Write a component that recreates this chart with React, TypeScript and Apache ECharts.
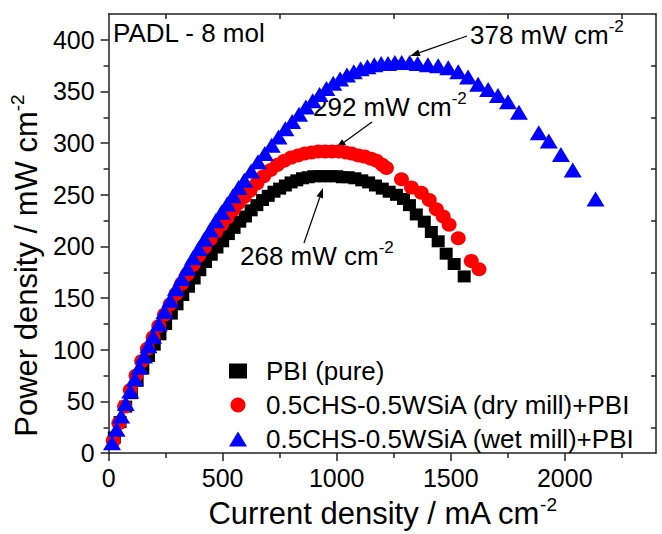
import React, { useEffect, useRef } from "react";
import * as echarts from "echarts";

const FONT = "'Liberation Sans', Arial, sans-serif";

const seriesNames = [
  "PBI (pure)",
  "0.5CHS-0.5WSiA (dry mill)+PBI",
  "0.5CHS-0.5WSiA (wet mill)+PBI",
];

// [current density (mA cm-2), power density (mW cm-2)]
const pbiPure: [number, number][] = [
  [25, 15], [50, 30], [75, 45], [100, 58], [125, 70], [150, 82], [175, 94], [200, 105],
  [225, 115], [250, 125], [275, 135], [300, 144], [325, 153], [350, 161], [375, 169],
  [400, 177], [425, 185], [450, 192], [475, 199], [500, 205], [525, 212], [550, 218],
  [575, 224], [600, 229], [625, 235], [650, 240], [675, 245], [700, 249], [725, 253],
  [750, 256], [775, 259], [800, 262], [825, 264], [850, 266], [875, 267], [900, 268],
  [925, 268], [950, 268], [975, 268], [1000, 268], [1025, 267], [1050, 267], [1080, 266],
  [1110, 264], [1140, 262], [1170, 259], [1200, 256], [1230, 253], [1262, 250], [1293, 246],
  [1319, 240], [1349, 231], [1384, 224], [1415, 214], [1445, 205], [1480, 193], [1515, 183],
  [1559, 171],
];

const dryMill: [number, number][] = [
  [20, 12], [45, 29], [70, 45], [95, 61], [120, 75], [145, 89], [170, 101], [195, 112],
  [220, 123], [245, 134], [270, 144], [295, 154], [320, 164], [345, 173], [370, 182],
  [395, 191], [420, 199], [445, 207], [470, 214], [495, 221], [520, 228], [545, 235],
  [570, 242], [595, 248], [620, 254], [650, 261], [680, 268], [710, 274], [740, 279],
  [770, 283], [800, 286], [830, 288], [860, 290], [890, 291], [920, 292], [950, 292],
  [980, 292], [1009, 292], [1040, 291], [1065, 290], [1095, 288], [1122, 287], [1150, 285],
  [1175, 283], [1200, 279], [1218, 276], [1284, 265], [1328, 257], [1371, 252], [1406, 245],
  [1437, 236], [1467, 229], [1493, 221], [1533, 208], [1590, 186], [1624, 178],
];

const wetMill: [number, number][] = [
  [15, 10], [35, 23], [55, 36], [75, 48], [95, 60], [115, 72], [135, 83], [155, 94],
  [175, 104], [195, 113], [220, 125], [245, 137], [270, 148], [295, 159], [320, 169],
  [345, 179], [370, 189], [395, 198], [420, 207], [445, 216], [470, 225], [495, 233],
  [520, 241], [545, 249], [570, 257], [595, 264], [625, 273], [655, 282], [685, 290],
  [715, 298], [745, 306], [775, 314], [805, 321], [835, 328], [865, 335], [895, 341],
  [925, 347], [955, 353], [985, 358], [1015, 362], [1045, 366], [1075, 369], [1105, 372],
  [1135, 374], [1165, 376], [1195, 377], [1225, 377], [1255, 378], [1285, 378], [1320, 378],
  [1355, 377], [1400, 376], [1445, 375], [1489, 373], [1533, 369], [1576, 364], [1620, 357],
  [1664, 352], [1707, 346], [1751, 340], [1799, 330], [1886, 310], [1930, 302], [1983, 289],
  [2035, 274], [2135, 246],
];

const xMajorTicks = [0, 500, 1000, 1500, 2000];
const xMinorTicks = [250, 750, 1250, 1750, 2250];
const yMajorTicks = [0, 50, 100, 150, 200, 250, 300, 350, 400];
const yMinorTicks = [25, 75, 125, 175, 225, 275, 325, 375];

const peakTexts = ["378 mW cm", "292 mW cm", "268 mW cm"];
const unitExp = "-2";
const panelLabel = "PADL - 8 mol";

const supRich = (size: number, supSize: number, lh: number) => ({
  n: { fontSize: size, fontFamily: FONT, color: "#000", lineHeight: lh, verticalAlign: "bottom" },
  s: { fontSize: supSize, fontFamily: FONT, color: "#000", lineHeight: supSize, verticalAlign: "top" },
});

function arrow(x1: number, y1: number, x2: number, y2: number): any[] {
  const dx = x2 - x1;
  const dy = y2 - y1;
  const len = Math.sqrt(dx * dx + dy * dy);
  const ux = dx / len;
  const uy = dy / len;
  const hl = 10;
  const hw = 3.5;
  const bx = x2 - ux * hl;
  const by = y2 - uy * hl;
  return [
    {
      type: "line",
      shape: { x1, y1, x2: bx, y2: by },
      style: { stroke: "#000", lineWidth: 1.2 },
      silent: true,
    },
    {
      type: "polygon",
      shape: {
        points: [
          [x2, y2],
          [bx - uy * hw, by + ux * hw],
          [bx + uy * hw, by - ux * hw],
        ],
      },
      style: { fill: "#000" },
      silent: true,
    },
  ];
}

export default function App() {
  const ref = useRef<HTMLDivElement>(null);

  useEffect(() => {
    document.body.style.margin = "0";
    const chart = echarts.init(ref.current!, null, { renderer: "svg" });

    const axisLineStyle = { color: "#222", width: 1.5 };
    const X_MAX = 2400;
    const Y_MAX = 425;
    const fmt = (v: number) => String(v);

    const option: any = {
      animation: false,
      backgroundColor: "#fff",
      grid: { left: 106, right: 6, top: 14, bottom: 74, containLabel: false },
      xAxis: [
        {
          type: "value",
          position: "bottom",
          min: 0,
          max: X_MAX,
          interval: 500,
          axisLine: { show: true, onZero: false, lineStyle: axisLineStyle },
          axisTick: { show: true, length: 8, lineStyle: axisLineStyle, customValues: xMajorTicks },
          axisLabel: {
            show: true,
            customValues: xMajorTicks,
            formatter: fmt,
            fontSize: 25,
            fontFamily: FONT,
            color: "#000",
            margin: 12,
          },
          splitLine: { show: false },
          name: "{n|Current density / mA cm}{s|" + unitExp + "}",
          nameLocation: "middle",
          nameGap: 41,
          nameTextStyle: { rich: supRich(31, 19, 34) },
        },
        {
          type: "value",
          position: "bottom",
          min: 0,
          max: X_MAX,
          interval: 250,
          axisLine: { show: false, onZero: false },
          axisTick: { show: true, length: 5, lineStyle: axisLineStyle, customValues: xMinorTicks },
          axisLabel: { show: false },
          splitLine: { show: false },
        },
        {
          type: "value",
          position: "top",
          min: 0,
          max: X_MAX,
          interval: 250,
          axisLine: { show: true, onZero: false, lineStyle: axisLineStyle },
          axisTick: { show: true, inside: true, length: 5, lineStyle: axisLineStyle, customValues: xMinorTicks },
          axisLabel: { show: false },
          splitLine: { show: false },
        },
      ],
      yAxis: [
        {
          type: "value",
          position: "left",
          min: 0,
          max: Y_MAX,
          interval: 50,
          axisLine: { show: true, onZero: false, lineStyle: axisLineStyle },
          axisTick: { show: true, length: 8, lineStyle: axisLineStyle, customValues: yMajorTicks },
          axisLabel: {
            show: true,
            customValues: yMajorTicks,
            formatter: fmt,
            fontSize: 25,
            fontFamily: FONT,
            color: "#000",
            margin: 14,
          },
          splitLine: { show: false },
          name: "{n|Power density / mW cm}{s|" + unitExp + "}",
          nameLocation: "middle",
          nameGap: 63,
          nameTextStyle: { rich: supRich(31, 19, 34), padding: [0, 64, 0, 0] },
        },
        {
          type: "value",
          position: "left",
          min: 0,
          max: Y_MAX,
          interval: 25,
          axisLine: { show: false, onZero: false },
          axisTick: { show: true, length: 5, lineStyle: axisLineStyle, customValues: yMinorTicks },
          axisLabel: { show: false },
          splitLine: { show: false },
        },
        {
          type: "value",
          position: "right",
          min: 0,
          max: Y_MAX,
          interval: 25,
          axisLine: { show: true, onZero: false, lineStyle: axisLineStyle },
          axisTick: { show: true, inside: true, length: 5, lineStyle: axisLineStyle, customValues: yMinorTicks },
          axisLabel: { show: false },
          splitLine: { show: false },
        },
      ],
      legend: {
        orient: "vertical",
        left: 229,
        top: 357,
        padding: 0,
        itemWidth: 18,
        itemHeight: 15,
        itemGap: 6,
        selectedMode: false,
        data: seriesNames,
        textStyle: {
          fontSize: 26,
          fontFamily: FONT,
          color: "#000",
          lineHeight: 28,
          padding: [0, 0, 0, 14],
        },
      },
      series: [
        {
          name: seriesNames[0],
          type: "scatter",
          xAxisIndex: 0,
          yAxisIndex: 0,
          symbol: "rect",
          symbolSize: [13, 12],
          itemStyle: { color: "#000000", opacity: 1 },
          data: pbiPure,
          silent: true,
          clip: false,
        },
        {
          name: seriesNames[1],
          type: "scatter",
          xAxisIndex: 0,
          yAxisIndex: 0,
          symbol: "circle",
          symbolSize: [15, 14],
          itemStyle: { color: "#ff0000", opacity: 1 },
          data: dryMill,
          silent: true,
          clip: false,
        },
        {
          name: seriesNames[2],
          type: "scatter",
          xAxisIndex: 0,
          yAxisIndex: 0,
          symbol: "triangle",
          symbolSize: [18, 15],
          itemStyle: { color: "#0000ff", opacity: 1 },
          data: wetMill,
          silent: true,
          clip: false,
        },
      ],
      graphic: [
        {
          type: "text",
          x: 113,
          y: 33,
          silent: true,
          style: { text: panelLabel, fontSize: 26, fontFamily: FONT, fill: "#000", verticalAlign: "middle" },
        },
        {
          type: "text",
          x: 470,
          y: 33,
          silent: true,
          style: { text: "{n|" + peakTexts[0] + "}{s|" + unitExp + "}", rich: supRich(26, 17, 30), verticalAlign: "middle" },
        },
        {
          type: "text",
          x: 313,
          y: 105,
          silent: true,
          style: { text: "{n|" + peakTexts[1] + "}{s|" + unitExp + "}", rich: supRich(26, 17, 30), verticalAlign: "middle" },
        },
        {
          type: "text",
          x: 240,
          y: 254,
          silent: true,
          style: { text: "{n|" + peakTexts[2] + "}{s|" + unitExp + "}", rich: supRich(26, 17, 30), verticalAlign: "middle" },
        },
        ...arrow(467, 36, 410, 56),
        ...arrow(372, 122, 336, 148),
        ...arrow(304, 243, 323, 188),
      ],
    };

    chart.setOption(option);
    return () => chart.dispose();
  }, []);

  return <div ref={ref} style={{ width: 662, height: 534 }} />;
}
